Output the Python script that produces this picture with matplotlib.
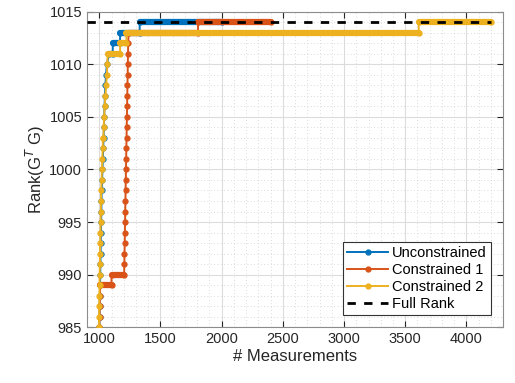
import matplotlib
matplotlib.use("Agg")
import matplotlib.pyplot as plt
from matplotlib.ticker import MultipleLocator

plt.rcParams["font.family"] = ["Liberation Sans", "DejaVu Sans"]
plt.rcParams["mathtext.fontset"] = "custom"
plt.rcParams["mathtext.rm"] = "Liberation Sans"

BLUE = "#0072BD"
RED = "#D95319"
YELLOW = "#EDB120"

# unconstrained: vertices of the rank trace (# measurements, rank)
unc_x = [1000, 1002, 1003, 1005, 1006, 1008, 1009, 1011, 1012, 1014, 1015, 1017, 1018,
         1020, 1023, 1026, 1029, 1032, 1035, 1038, 1040, 1043, 1046, 1050, 1055, 1062,
         1080, 1110, 1110, 1170, 1170, 1330, 1330, 2000]
unc_r = [985, 986, 987, 988, 989, 990, 991, 992, 993, 994, 995, 996, 997,
         998, 999, 1000, 1001, 1002, 1003, 1004, 1005, 1006, 1007, 1008, 1009, 1010,
         1011, 1011, 1012, 1012, 1013, 1013, 1014, 1014]

# constrained 1
c1_x = [1000, 1002, 1004, 1006, 1008, 1100, 1100, 1203,
        1205, 1206, 1208, 1209, 1211, 1212, 1214, 1215, 1217, 1218, 1220, 1221,
        1223, 1224, 1226, 1227, 1229, 1230, 1232, 1233, 1235, 1236,
        1240, 1807, 1807, 2400]
c1_r = [985, 986, 987, 988, 989, 989, 990, 990,
        991, 992, 993, 994, 995, 996, 997, 998, 999, 1000, 1001, 1002,
        1003, 1004, 1005, 1006, 1007, 1008, 1009, 1010, 1011, 1012,
        1013, 1013, 1014, 1014]

# constrained 2
c2_x = [998, 999, 1000, 1001, 1002, 1003, 1005, 1006, 1008, 1010, 1011, 1013, 1014,
        1016, 1019, 1022, 1025, 1028, 1030, 1034, 1036, 1040, 1044, 1050, 1056, 1062,
        1066, 1068, 1170, 1170, 1222, 1222, 3610, 3610, 4200]
c2_r = [985, 986, 987, 988, 989, 990, 991, 992, 993, 994, 995, 996, 997,
        998, 999, 1000, 1001, 1002, 1003, 1003, 1004, 1005, 1006, 1007, 1008, 1009,
        1010, 1011, 1011, 1012, 1012, 1013, 1013, 1014, 1014]

full_x = [900, 4200]
full_r = [1014, 1014]

fig = plt.figure(figsize=(5.15, 3.83), dpi=100)
ax = fig.add_axes([0.169, 0.146, 0.808, 0.823])

series = [
    ("Unconstrained", unc_x, unc_r, BLUE),
    ("Constrained 1", c1_x, c1_r, RED),
    ("Constrained 2", c2_x, c2_r, YELLOW),
]
for name, xs, rs, col in series:
    ax.plot(xs, rs, "-", color=col, lw=1.4, marker=".", ms=7, label=name, zorder=3)
    # dense sampling on plateaus makes them look thick
    for i in range(len(xs) - 1):
        if rs[i] == rs[i + 1]:
            ax.plot([xs[i], xs[i + 1]], [rs[i], rs[i + 1]], color=col, lw=4.5,
                    solid_capstyle="round", zorder=3)

ax.plot(full_x, full_r, "k--", lw=2, dashes=(3, 3), label="Full Rank", zorder=4)

ax.set_xlim(900, 4300)
ax.set_ylim(985, 1015)
ax.xaxis.set_major_locator(MultipleLocator(500))
ax.xaxis.set_minor_locator(MultipleLocator(100))
ax.yaxis.set_major_locator(MultipleLocator(5))
ax.yaxis.set_minor_locator(MultipleLocator(1))
ax.set_xticks([1000, 1500, 2000, 2500, 3000, 3500, 4000])
ax.grid(True, which="major", color="#dcdcdc", lw=0.8, zorder=0)
ax.grid(True, which="minor", color="#cfcfcf", lw=0.6, linestyle=(0, (1, 3)), zorder=0)
ax.set_axisbelow(True)
ax.tick_params(which="both", direction="in", top=True, right=True, colors="#262626",
               labelsize=10.5)
ax.tick_params(which="major", length=4)
ax.tick_params(which="minor", length=0)
for sp in ax.spines.values():
    sp.set_color("#8c8c8c")
    sp.set_linewidth(0.8)

ax.set_xlabel("# Measurements", fontsize=12, color="#262626", labelpad=2)
ax.set_ylabel("Rank(G$^{T}$ G)", fontsize=12, color="#262626", labelpad=2)

leg = ax.legend(loc="lower right", fontsize=10.5, framealpha=1, fancybox=False,
                edgecolor="#333333", handlelength=2.8, handletextpad=0.3,
                borderpad=0.3, labelspacing=0.2, borderaxespad=0.8, numpoints=1)
leg.get_frame().set_linewidth(0.8)

fig.savefig("out.png", dpi=100)
